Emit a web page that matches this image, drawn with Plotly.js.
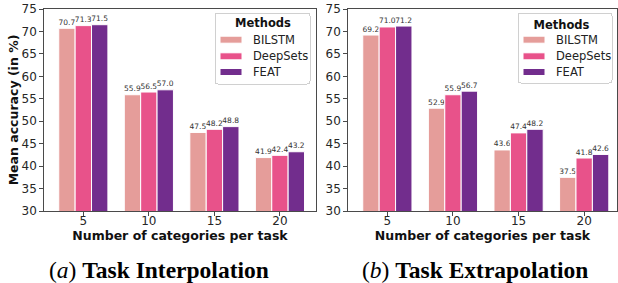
<!DOCTYPE html>
<html>
<head>
<meta charset="utf-8">
<script src="https://cdn.plot.ly/plotly-3.0.1.min.js"></script>
<style>html,body{margin:0;padding:0;background:#fff;}#chart{width:618px;height:283px;}</style>
</head>
<body>
<div id="chart"></div>
<script>
// ---- data ----
const categories = ['5', '10', '15', '20'];
const methods = ['BILSTM', 'DeepSets', 'FEAT'];
const interpBILSTM = [70.7, 55.9, 47.5, 41.9];
const interpDeepSets = [71.3, 56.5, 48.2, 42.4];
const interpFEAT = [71.5, 57.0, 48.8, 43.2];
const extrapBILSTM = [69.2, 52.9, 43.6, 37.5];
const extrapDeepSets = [71.0, 55.9, 47.4, 41.8];
const extrapFEAT = [71.2, 56.7, 48.2, 42.6];
const yTicks = [30, 35, 40, 45, 50, 55, 60, 65, 70, 75];

const colors = ['#e59d9a', '#e8528a', '#722d8d'];
const font = 'DejaVu Sans';
const spine = '#4a4a4a';

function bar(name, vals, color, xa, ya, legend) {
  return {
    type: 'bar', name: name, x: categories, y: vals,
    xaxis: xa, yaxis: ya, legend: legend,
    marker: {color: color, line: {color: '#ffffff', width: 1}},
    texttemplate: '%{y:.1f}', textposition: 'outside', constraintext: 'none',
    textfont: {family: font, size: 7.5, color: '#333333'},
    hoverinfo: 'skip'
  };
}

const interp = [interpBILSTM, interpDeepSets, interpFEAT];
const extrap = [extrapBILSTM, extrapDeepSets, extrapFEAT];
const data = [];
methods.forEach((m, i) => data.push(bar(m, interp[i], colors[i], 'x', 'y', 'legend')));
methods.forEach((m, i) => data.push(bar(m, extrap[i], colors[i], 'x2', 'y2', 'legend2')));

function xaxis(domain, anchor, range) {
  return {
    domain: domain, anchor: anchor, type: 'category', range: range,
    showline: true, mirror: true, linecolor: spine, linewidth: 1.3,
    ticks: 'outside', ticklen: 3.5, tickwidth: 1, tickcolor: spine,
    tickfont: {family: font, size: 12, color: '#262626'},
    ticklabelstandoff: -5,
    showgrid: false, zeroline: false,
    title: {text: '<b>Number of categories per task</b>', font: {family: font, size: 12.5, color: '#111'}, standoff: 0}
  };
}
function yaxis(domain, anchor, title) {
  const a = {
    domain: domain, anchor: anchor, range: [30, 75],
    tickvals: yTicks, ticktext: yTicks.map(String),
    showline: true, mirror: true, linecolor: spine, linewidth: 1.3,
    ticks: 'outside', ticklen: 3.5, tickwidth: 1, tickcolor: spine,
    tickfont: {family: font, size: 12, color: '#262626'},
    showgrid: false, zeroline: false
  };
  if (title) a.title = {text: '<b>' + title + '</b>', font: {family: font, size: 12.5, color: '#111'}, standoff: 0};
  return a;
}

const yDom = [72 / 283, 274 / 283];
function legend(xRight) {
  return {
    x: xRight, xanchor: 'right', y: 270 / 283, yanchor: 'top',
    bgcolor: '#ffffff', bordercolor: '#d0d0d0', borderwidth: 1,
    font: {family: font, size: 11.5, color: '#222'},
    title: {text: '<b>Methods</b>', side: 'top center', font: {family: font, size: 11.5, color: '#111'}},
    itemwidth: 30, tracegroupgap: 0
  };
}

const layout = {
  width: 618, height: 283,
  margin: {l: 0, r: 0, t: 0, b: 0},
  paper_bgcolor: '#ffffff', plot_bgcolor: '#ffffff',
  barmode: 'group', bargap: 0.25, bargroupgap: 0,
  showlegend: true,
  xaxis: xaxis([44 / 618, 316 / 618], 'y', [-0.6, 3.55]),
  yaxis: yaxis(yDom, 'x', 'Mean accuracy (in %)'),
  xaxis2: xaxis([348 / 618, 617 / 618], 'y2', [-0.6, 3.5]),
  yaxis2: yaxis(yDom, 'x2', null),
  legend: legend(311 / 618),
  legend2: legend(613 / 618),
  annotations: [
    {text: '(<i>a</i>) <b>Task Interpolation</b>', xref: 'paper', yref: 'paper',
     x: 159 / 618, y: 13 / 283, xanchor: 'center', yanchor: 'middle', showarrow: false,
     font: {family: 'Liberation Serif', size: 23.5, color: '#000'}},
    {text: '(<i>b</i>) <b>Task Extrapolation</b>', xref: 'paper', yref: 'paper',
     x: 475 / 618, y: 13 / 283, xanchor: 'center', yanchor: 'middle', showarrow: false,
     font: {family: 'Liberation Serif', size: 23.5, color: '#000'}}
  ]
};

// matplotlib-style legend box geometry (screen px)
const legendBoxes = {
  legend: {left: 215, top: 13, width: 96, height: 72},
  legend2: {left: 518, top: 13, width: 95, height: 71}
};

function shift(el, dx, dy) {
  const t = el.getAttribute('transform') || '';
  el.setAttribute('transform', t + ' translate(' + dx + ',' + dy + ')');
}

function restyleLegend(cls) {
  const box = legendBoxes[cls];
  const g = document.querySelector('.infolayer > g.' + cls) || document.querySelector('g.' + cls);
  if (!g) return;
  g.querySelectorAll('[clip-path]').forEach(el => el.removeAttribute('clip-path'));
  const bg = g.querySelector('rect.bg');
  if (bg) {
    const r = bg.getBoundingClientRect();
    bg.setAttribute('width', box.width - 1);
    bg.setAttribute('height', box.height - 1);
    bg.setAttribute('rx', 3); bg.setAttribute('ry', 3);
    shift(bg, box.left + 0.5 - (r.left + 0.5), box.top + 0.5 - (r.top + 0.5));
  }
  const title = g.querySelector('.legendtitletext');
  if (title) {
    const r = title.getBoundingClientRect();
    shift(title, box.left + box.width / 2 - (r.left + r.width / 2), box.top + 10 - (r.top + r.height / 2));
  }
  const rows = [26.7, 43.3, 59];
  let i = 0;
  g.querySelectorAll('g.traces').forEach(tr => {
    const txt = tr.querySelector('text.legendtext') || tr.querySelector('text');
    if (!txt || i >= rows.length) return;
    const r = txt.getBoundingClientRect();
    shift(tr, box.left + 38 - r.left, box.top + rows[i] - (r.top + r.height / 2));
    const p = tr.querySelector('.legendpoints path');
    if (p) {
      p.setAttribute('d', 'M-11,-3.5H11V3.5H-11Z');
      const pr = p.getBoundingClientRect();
      shift(p, box.left + 5 - pr.left, box.top + rows[i] - (pr.top + pr.height / 2));
    }
    i++;
  });
}

Plotly.newPlot('chart', data, layout, {displayModeBar: false, staticPlot: true}).then(() => {
  try { restyleLegend('legend'); } catch (e) {}
  try { restyleLegend('legend2'); } catch (e) {}
  // matplotlib bar_label sits closer to the bar top
  try { document.querySelectorAll('.bartext').forEach(t => shift(t, 0, 1.5)); } catch (e) {}
});
</script>
</body>
</html>
